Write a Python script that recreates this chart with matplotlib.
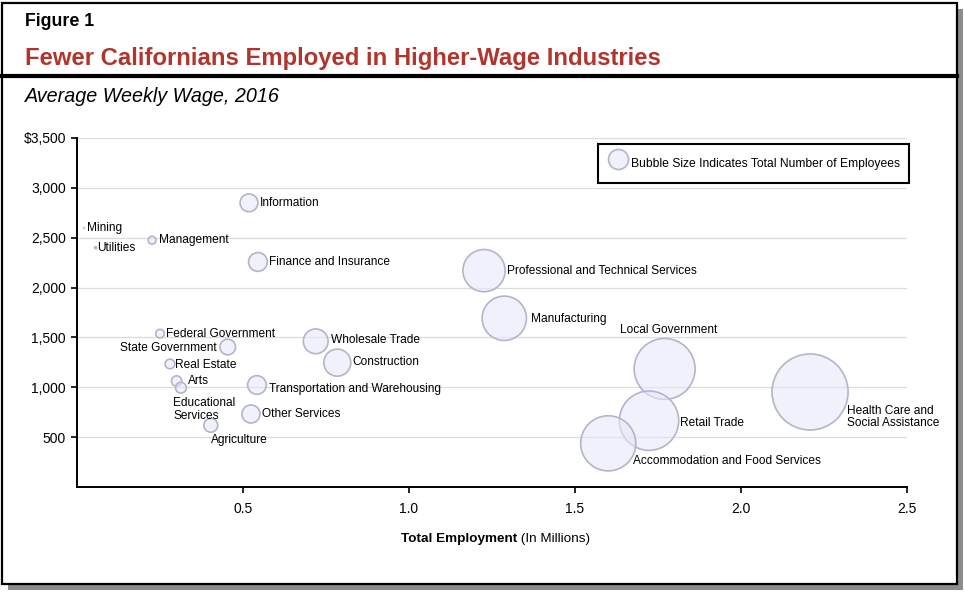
import matplotlib
matplotlib.use("Agg")
import matplotlib.pyplot as plt
from matplotlib.patches import Rectangle
from matplotlib.lines import Line2D
import numpy as np

plt.rcParams['font.family'] = ['Liberation Sans', 'DejaVu Sans']

industries = ["Mining", "Utilities", "Management", "Information",
              "Finance and Insurance", "Federal Government", "State Government",
              "Real Estate", "Arts", "Educational\nServices", "Agriculture",
              "Other Services", "Transportation and Warehousing",
              "Wholesale Trade", "Construction",
              "Professional and Technical Services", "Manufacturing",
              "Local Government", "Retail Trade",
              "Accommodation and Food Services",
              "Health Care and\nSocial Assistance"]
employment = [0.021, 0.056, 0.226, 0.518, 0.545, 0.250, 0.454, 0.280, 0.300,
              0.313, 0.403, 0.524, 0.542, 0.719, 0.784, 1.226, 1.287, 1.770,
              1.723, 1.600, 2.208]
weekly_wage = [2598, 2400, 2475, 2850, 2257, 1538, 1404, 1234, 1063, 996, 619,
               732, 1023, 1461, 1247, 2170, 1692, 1184, 665, 438, 953]

y_ticks = [500, 1000, 1500, 2000, 2500, 3000, 3500]
x_ticks = [0.5, 1.0, 1.5, 2.0, 2.5]

# label placement: (dx px, dy px, ha)
label_pos = {
    "Mining": (3, 0, "left"),
    "Utilities": (2, 0, "left"),
    "Management": (6.5, 0, "left"),
    "Information": (11, 0, "left"),
    "Finance and Insurance": (11, 0, "left"),
    "Federal Government": (6.5, 0, "left"),
    "State Government": (-11, -0.5, "right"),
    "Real Estate": (5, -1, "left"),
    "Arts": (11, 0, "left"),
    "Educational\nServices": (-7.7, -21.5, "left"),
    "Agriculture": (29, -15, "center"),
    "Other Services": (11, 0, "left"),
    "Transportation and Warehousing": (12, -3.7, "left"),
    "Wholesale Trade": (15, 1.6, "left"),
    "Construction": (15, 0.7, "left"),
    "Professional and Technical Services": (23, 0, "left"),
    "Manufacturing": (27, -1, "left"),
    "Local Government": (-45, 39, "left"),
    "Retail Trade": (31, -2, "left"),
    "Accommodation and Food Services": (25, -18, "left"),
    "Health Care and\nSocial Assistance": (37, -25, "left"),
}

W, H = 964, 592
fig = plt.figure(figsize=(W / 100, H / 100), dpi=100)

# frame with shadow
fig.add_artist(Rectangle((8 / W, (H - 590) / H), 955 / W, 581 / H,
                         transform=fig.transFigure, fc='#8c8c8c', ec='none', zorder=-10))
fig.add_artist(Rectangle((2 / W, (H - 584) / H), 955 / W, 581 / H,
                         transform=fig.transFigure, fc='white', ec='black', lw=1.6, zorder=-9))
fig.add_artist(Line2D([2 / W, 957 / W], [(H - 76) / H, (H - 76) / H],
                      transform=fig.transFigure, color='black', lw=3.0))

fig.text(25 / W, (H - 21) / H, "Figure 1", fontsize=12.8, fontweight='bold', va='center')
fig.text(25 / W, (H - 58) / H, "Fewer Californians Employed in Higher-Wage Industries",
         fontsize=17.2, fontweight='bold', color='#b1352c', va='center')
fig.text(25 / W, (H - 96) / H, "Average Weekly Wage, 2016", fontsize=14.2,
         style='italic', va='center')

ax = fig.add_axes([77 / W, (H - 487) / H, 830 / W, 349 / H])
ax.set_xlim(0, 2.5)
ax.set_ylim(0, 3500)

x = np.array(employment)
sizes = (24.8 * x) ** 2
ax.scatter(x, weekly_wage, s=sizes, facecolor=(0.90, 0.91, 0.97, 0.6),
           edgecolor='#b3b5cb', linewidth=1.2, zorder=3)

for name, xi, yi in zip(industries, employment, weekly_wage):
    dx, dy, ha = label_pos[name]
    ax.annotate(name, (xi, yi), xytext=(dx, dy), textcoords='offset pixels',
                ha=ha, va='center', fontsize=8.6, linespacing=1.1, zorder=4)

ax.set_yticks(y_ticks)
ax.set_yticklabels([("$" if v == y_ticks[-1] else "") + f"{v:,}" for v in y_ticks])
ax.set_xticks(x_ticks)
ax.set_xticklabels([f"{v:.1f}" for v in x_ticks])
ax.tick_params(labelsize=10, length=4, width=1.2, direction='out', pad=4)
ax.tick_params(axis='x', pad=7)
ax.grid(axis='y', color='#dcdcdc', linewidth=0.9)
ax.set_axisbelow(True)
for s in ['top', 'right']:
    ax.spines[s].set_visible(False)
for s in ['left', 'bottom']:
    ax.spines[s].set_linewidth(1.4)

# x label: bold part + regular part
fig.text(517 / W, (H - 539) / H, "Total Employment", fontsize=9.7,
         fontweight='bold', ha='right', va='center')
fig.text(517 / W, (H - 539) / H, " (In Millions)", fontsize=9.7, ha='left', va='center')

h = ax.scatter([], [], s=(20 * 0.72) ** 2, facecolor=(0.90, 0.91, 0.97, 0.6),
               edgecolor='#b3b5cb', linewidth=1.2,
               label="Bubble Size Indicates Total Number of Employees")
leg = ax.legend(handles=[h], loc='upper right', bbox_to_anchor=(909 / W, (H - 144) / H),
                bbox_transform=fig.transFigure, fancybox=False, fontsize=8.7,
                borderpad=0.7, handlelength=2.05, handleheight=2.4,
                handletextpad=0.05, borderaxespad=0, framealpha=1)
leg.get_frame().set_edgecolor('black')
leg.get_frame().set_linewidth(1.5)

fig.savefig("out.png", dpi=100)
